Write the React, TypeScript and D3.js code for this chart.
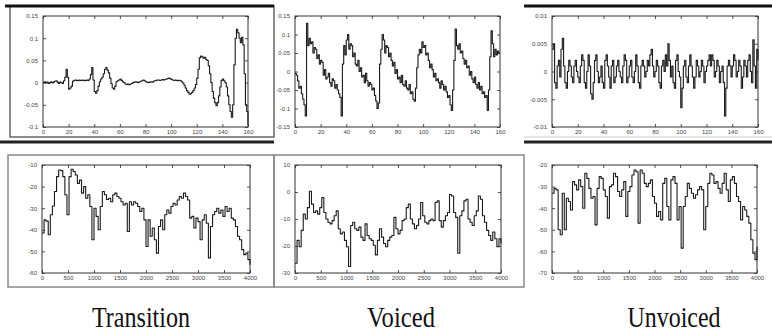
import React, { useRef, useEffect } from "react";
import * as d3 from "d3";

// sample index ticks (top row) and frequency ticks in Hz (bottom row)
const sampleTicks = [0, 20, 40, 60, 80, 100, 120, 140, 160];
const freqTicks = [0, 500, 1000, 1500, 2000, 2500, 3000, 3500, 4000];

const transitionAmpTicks = [-0.1, -0.05, 0, 0.05, 0.1, 0.15];
const voicedAmpTicks = [-0.15, -0.1, -0.05, 0, 0.05, 0.1, 0.15];
const unvoicedAmpTicks = [-0.01, -0.005, 0, 0.005, 0.01];
const transitionDbTicks = [-60, -50, -40, -30, -20, -10];
const voicedDbTicks = [-30, -20, -10, 0, 10];
const unvoicedDbTicks = [-70, -60, -50, -40, -30, -20];

const captions = ["Transition", "Voiced", "Unvoiced"];

// time waveforms, one value per sample (0..160)
const transitionWave = [
    0, 0.002, -0.001, 0.001, -0.002, 0, 0.002, -0.001, 0.001, 0.003, 0.004, 0.001, -0.002, 0.001, 0, -0.002, 0.004, 0.012,
    0.03, 0.012, -0.015, -0.012, -0.008, 0.003, 0.005, 0.006, 0.005, 0.004, 0.006, 0.005, 0.005, 0.006, 0.004, 0.005, 0.006, 0.005, 0.008,
    0.018, 0.034, 0.006, -0.02, -0.024, -0.018, -0.008, 0.002, 0.008, 0.012, 0.02, 0.03, 0.034, 0.028, 0.022, 0.01, -0.002, -0.012, -0.015, -0.008,
    0.002, 0.004, 0.006, 0.008, 0.005, 0.002, 0, -0.003, -0.004, -0.003, -0.005, -0.003, -0.002, 0,
    0.001, 0.002, 0.001, 0, 0.002, 0.003, 0.004, 0.006, 0.004, 0.002, 0.001, 0, 0.001, 0.002, 0.001, 0.003,
    0.004, 0.005, 0.006, 0.006, 0.005, 0.006, 0.007, 0.006, 0.007, 0.008, 0.009, 0.01, 0.009, 0.007, 0.006, 0.005, 0.006, 0.005, 0.004, 0.005, 0.004,
    0.002, -0.001, -0.006, -0.012, -0.018, -0.022, -0.026, -0.025, -0.022, -0.018,
    -0.012, -0.004, 0.01, 0.03,
    0.056, 0.06, 0.058, 0.055, 0.057, 0.052,
    0.05, 0.038, 0.02, 0, -0.02, -0.035, -0.045, -0.052,
    -0.045, -0.03, -0.01, 0.005, 0.008, 0.004,
    0, -0.01, -0.03, -0.05, -0.065, -0.078,
    -0.05, 0.04, 0.1, 0.12, 0.112, 0.1, 0.09, 0.102, 0.085, 0.02, -0.05, -0.065, -0.095,
];

const voicedWave = [
    -0.005, -0.01, -0.025, -0.045, -0.04, -0.06, -0.075, -0.09, -0.12, 0.13,
    0.07, 0.09, 0.075, 0.08, 0.05, 0.065, 0.06, 0.035, 0.045, 0.02, 0.03, 0.025, -0.01, 0.005,
    -0.02, -0.015, -0.005, -0.03, -0.04, -0.02, -0.025, -0.045, -0.035, -0.05, -0.06, -0.07, -0.12,
    0.02, 0.07, 0.045, 0.085, 0.1, 0.06, 0.075, 0.07, 0.04, 0.05, 0.02, 0.015, 0.03, 0, 0.01,
    -0.015, -0.01, -0.03, -0.005, -0.025, -0.04, -0.03, -0.035, -0.05, -0.045, -0.065, -0.08, -0.1, -0.085,
    0.02, 0.06, 0.1, 0.085, 0.05, 0.07, 0.065, 0.04, 0.05, 0.03, 0.015, 0.025, -0.005, 0.005,
    -0.02, -0.015, -0.03, -0.01, -0.035, -0.04, -0.025, -0.045, -0.05, -0.035, -0.06, -0.055, -0.075, -0.08, -0.045,
    0.01, 0.045, 0.06, 0.05, 0.08, 0.065, 0.07, 0.045, 0.05, 0.03, 0.01, 0.02, 0.005, -0.015,
    -0.005, -0.025, -0.02, -0.03, -0.045, -0.025, -0.035, -0.05, -0.04, -0.055, -0.07, -0.065, -0.09, -0.105, -0.05,
    0.03, 0.115, 0.07, 0.06, 0.075, 0.05, 0.055, 0.035, 0.02, 0.03, 0.01, 0.015, -0.01, 0,
    -0.02, -0.03, -0.015, -0.035, -0.045, -0.03, -0.05, -0.04, -0.06, -0.055, -0.07, -0.065, -0.105, -0.05,
    0.04, 0.11, 0.075, 0.04, 0.06, 0.045, 0.055, 0.05, 0.05,
];

const unvoicedWave = [
    0.004, 0.005, -0.002, -0.003, 0.001, 0.002, -0.001, 0.004, 0.006, 0.001, -0.002, -0.003, 0, 0.002, 0.001, -0.001, -0.002, 0.001, 0.002, 0,
    -0.001, -0.002, 0.001, 0.003, 0.002, -0.002, -0.003, 0, 0.003, 0.001, -0.004, -0.005, -0.002, 0.002, 0.003, 0, -0.002, -0.001, 0.001, -0.002,
    -0.003, 0.002, 0.003, 0.001, -0.001, -0.003, 0.001, 0.002, -0.002, -0.001, 0.001, 0.002, 0, -0.001, -0.002, 0.001, 0.003, 0.002, -0.002, -0.001,
    0.001, 0.002, -0.001, -0.002, 0, 0.003, 0.001, -0.002, -0.003, 0.001, 0.002, 0.001, -0.001, 0, 0.002, 0.001, 0.003, 0.004, 0.001, -0.001,
    0, 0.002, 0.001, -0.002, -0.003, 0.001, 0.002, 0, 0.003, 0.001, 0.005, 0.002, -0.001, 0.001, -0.002, -0.003, 0.002, 0.003, 0, -0.001,
    -0.0065, -0.003, 0.001, 0.002, -0.001, -0.002, 0.001, 0.003, 0.001, -0.001, -0.003, -0.001, 0.002, 0.001, -0.001, 0, 0.002, 0.001, -0.002, 0,
    0.001, 0.002, 0.003, 0.001, 0.003, 0.002, -0.001, 0, 0.002, 0.001, -0.002, 0, 0.001, -0.002, -0.008, -0.003, 0.001, 0.002, 0.001, -0.001,
    0.001, 0.003, 0.002, -0.001, 0, 0.002, 0.001, -0.003, -0.001, 0.002, 0.001, -0.001, 0.002, 0.003, 0, -0.002, 0.0057, 0.001, -0.003, 0.004,
    0.002,
];

// spectra in dB, one value every 40 Hz (0..4000)
const transitionSpec = [
    -41.5, -35.4, -36, -42.3, -33, -29, -22.3, -15.4, -12.3, -12.6,
    -15.4, -23.8, -33, -15.4, -12, -13, -14.6, -18.5, -17, -23,
    -20, -25.4, -23.8, -29.2, -44.6, -30, -33.8, -40, -29.2, -22.3,
    -23.8, -26, -25.4, -27, -23.8, -23, -24.6, -25.4, -27, -28.5,
    -27.7, -40.8, -27, -28.5, -27, -27.7, -29.2, -31.5, -30, -35.4,
    -47.7, -35.4, -43, -39.2, -44.6, -50.8, -38.5, -35.4, -40, -33,
    -30.8, -32.3, -29.2, -27.7, -28.5, -26.2, -24.6, -25.4, -23, -24.6,
    -26.2, -34.6, -33.8, -39.2, -34.6, -36.2, -44.6, -35.4, -33, -37,
    -53, -38.5, -33, -31.5, -30, -32.3, -30.8, -33.8, -29.2, -31.5,
    -30, -34.6, -35.4, -38.5, -43, -44.6, -49.2, -51.5, -50.8, -53.8,
    -56.2,
];

const voicedSpec = [
    -26.4, -17.9, -20.3, -14.2, -8.2, -10, -5.8, 0.3, -4.5, -7.6,
    -7, -8.2, -5.8, -2.1, -7.6, -10, -11.2, -11.8, -10.6, -8.8,
    -7, -13.6, -15.5, -14.8, -17.9, -20.3, -27.6, -12.4, -11.2, -13.6,
    -14.2, -13, -16.7, -17.9, -11.8, -16.1, -17.3, -17.9, -19.7, -23.3,
    -17.9, -13.6, -16.7, -19.1, -20.3, -17.9, -16.7, -16.1, -9.4, -13.6,
    -15.5, -14.2, -10.6, -10, -5.8, -4.5, -10, -11.8, -13.6, -12.4,
    -10, -3.9, -8.8, -11.2, -11.8, -10.6, -10, -10.6, -3.9, -3.3,
    -10.6, -13, -10.6, -8.8, -7.6, -0.9, -1.5, -7.6, -9.4, -22.7,
    -8.8, -7, -3.3, -2.7, -10, -11.2, -12.4, -8.8, -7, -1.5,
    -2.7, -8.8, -11.2, -14.2, -16.1, -17.9, -14.8, -17.3, -20.3, -17.3,
    -19.1,
];

const unvoicedSpec = [
    -33.1, -30.8, -31.5, -50, -52.3, -33.1, -50, -35.4, -36.9, -40.8,
    -27.7, -29.2, -31.5, -26.9, -30, -40, -23.8, -26.2, -30.8, -35.4,
    -34.6, -47.7, -30.8, -25.4, -26.2, -31.5, -34.6, -44.6, -30, -29.2,
    -23.8, -25.4, -32.3, -34.6, -31.5, -27.7, -43.8, -32.3, -30, -24.6,
    -22.3, -23.1, -46.9, -22.3, -23.8, -28.5, -30, -28.5, -26.9, -34.6,
    -37.7, -43.8, -41.5, -45.4, -28.5, -26.2, -39.2, -45.4, -26.9, -25.4,
    -28.5, -45.4, -39.2, -58.5, -39.2, -34.6, -28.5, -30.8, -33.1, -35.4,
    -33.8, -31.5, -30, -31.5, -50, -39.2, -28.5, -23.8, -24.6, -28.5,
    -27.7, -30.8, -33.1, -28.5, -23.8, -31.5, -36.9, -26.9, -25.4, -28.5,
    -34.6, -36.9, -45.4, -39.2, -40.8, -43.8, -46.9, -54.6, -60.8, -63.8,
    -57.7,
];

interface Panel {
    values: number[];
    step: number;
    xTicks: number[];
    yTicks: number[];
    box: [number, number, number, number]; // left, right, top, bottom
}

const panels: Panel[] = [
    { values: transitionWave, step: 1, xTicks: sampleTicks, yTicks: transitionAmpTicks, box: [43, 248, 16, 127] },
    { values: voicedWave, step: 1, xTicks: sampleTicks, yTicks: voicedAmpTicks, box: [295, 500, 16, 127] },
    { values: unvoicedWave, step: 1, xTicks: sampleTicks, yTicks: unvoicedAmpTicks, box: [552, 758, 16, 127] },
    { values: transitionSpec, step: 40, xTicks: freqTicks, yTicks: transitionDbTicks, box: [42, 250, 165, 273] },
    { values: voicedSpec, step: 40, xTicks: freqTicks, yTicks: voicedDbTicks, box: [295, 501, 165, 273] },
    { values: unvoicedSpec, step: 40, xTicks: freqTicks, yTicks: unvoicedDbTicks, box: [552, 757, 165, 273] },
];

const width = 772;
const height = 333;

const App: React.FC = () => {
    const svgRef = useRef<SVGSVGElement | null>(null);

    useEffect(() => {
        if (!svgRef.current) return;
        const svg = d3.select(svgRef.current);
        svg.selectAll("*").remove();

        svg.append("rect").attr("width", width).attr("height", height).attr("fill", "#fff");

        // scanned figure frames
        const frames = svg.append("g").attr("fill", "none");
        frames.append("rect").attr("x", 10).attr("y", 6).attr("width", 264).attr("height", 131)
            .attr("stroke", "#666").attr("stroke-width", 1.5);
        frames.append("line").attr("x1", 5).attr("x2", 274).attr("y1", 6).attr("y2", 6)
            .attr("stroke", "#111").attr("stroke-width", 3);
        frames.append("line").attr("x1", 524).attr("x2", 772).attr("y1", 6).attr("y2", 6)
            .attr("stroke", "#111").attr("stroke-width", 3);
        frames.append("line").attr("x1", 524).attr("x2", 772).attr("y1", 137).attr("y2", 137)
            .attr("stroke", "#ccc").attr("stroke-width", 1);
        frames.append("line").attr("x1", 0).attr("x2", 274).attr("y1", 142).attr("y2", 142)
            .attr("stroke", "#222").attr("stroke-width", 3);
        frames.append("line").attr("x1", 524).attr("x2", 772).attr("y1", 142).attr("y2", 142)
            .attr("stroke", "#222").attr("stroke-width", 3);
        frames.append("rect").attr("x", 8).attr("y", 155).attr("width", 266).attr("height", 132)
            .attr("stroke", "#888").attr("stroke-width", 1.5);
        frames.append("rect").attr("x", 274).attr("y", 155).attr("width", 250).attr("height", 132)
            .attr("stroke", "#888").attr("stroke-width", 1.5);

        panels.forEach(p => {
            const [x0, x1, y0, y1] = p.box;
            const xMax = p.xTicks[p.xTicks.length - 1];
            const x = d3.scaleLinear().domain([0, xMax]).range([x0, x1]);
            const y = d3.scaleLinear()
                .domain(d3.extent(p.yTicks) as [number, number])
                .range([y1, y0]);

            const g = svg.append("g");

            g.append("g")
                .attr("transform", `translate(0,${y1})`)
                .call(d3.axisBottom(x).tickValues(p.xTicks).tickSizeInner(-3).tickSizeOuter(0).tickPadding(3)
                    .tickFormat(d => String(d)))
                .call(a => a.select(".domain").remove())
                .call(a => a.selectAll("text").attr("font-size", 6).attr("fill", "#444"))
                .call(a => a.selectAll("line").attr("stroke", "#555"));

            g.append("g")
                .attr("transform", `translate(0,${y0})`)
                .call(d3.axisTop(x).tickValues(p.xTicks).tickSizeInner(-3).tickSizeOuter(0).tickFormat(() => ""))
                .call(a => a.select(".domain").remove())
                .call(a => a.selectAll("line").attr("stroke", "#555"));

            g.append("g")
                .attr("transform", `translate(${x0},0)`)
                .call(d3.axisLeft(y).tickValues(p.yTicks).tickSizeInner(-3).tickSizeOuter(0).tickPadding(5)
                    .tickFormat(d => String(d)))
                .call(a => a.select(".domain").remove())
                .call(a => a.selectAll("text").attr("font-size", 6).attr("fill", "#444"))
                .call(a => a.selectAll("line").attr("stroke", "#555"));

            g.append("g")
                .attr("transform", `translate(${x1},0)`)
                .call(d3.axisRight(y).tickValues(p.yTicks).tickSizeInner(-3).tickSizeOuter(0).tickFormat(() => ""))
                .call(a => a.select(".domain").remove())
                .call(a => a.selectAll("line").attr("stroke", "#555"));

            g.selectAll(".tick text").attr("font-family", "'Liberation Sans', Arial, sans-serif");

            g.append("rect")
                .attr("x", x0).attr("y", y0)
                .attr("width", x1 - x0).attr("height", y1 - y0)
                .attr("fill", "none").attr("stroke", "#333").attr("stroke-width", 1);

            const line = d3.line<number>()
                .x((_, i) => x(i * p.step))
                .y(d => y(d))
                .curve(d3.curveStepAfter);

            g.append("path")
                .datum(p.values)
                .attr("fill", "none")
                .attr("stroke", "#1a1a1a")
                .attr("stroke-width", 1.1)
                .attr("stroke-linejoin", "round")
                .attr("d", line);
        });

        const capX = [141, 401, 674];
        const capLen = [98, 68, 93];
        svg.append("g")
            .selectAll("text")
            .data(captions)
            .join("text")
            .attr("x", (_, i) => capX[i])
            .attr("y", 327)
            .attr("text-anchor", "middle")
            .attr("font-family", "'Liberation Serif', 'Times New Roman', serif")
            .attr("font-size", 30)
            .attr("fill", "#111")
            .attr("textLength", (_, i) => capLen[i])
            .attr("lengthAdjust", "spacingAndGlyphs")
            .text(d => d);
    }, []);

    return (
        <svg ref={svgRef} width={width} height={height}
            style={{ position: "absolute", left: 0, top: 0 }} />
    );
};

export default App;
